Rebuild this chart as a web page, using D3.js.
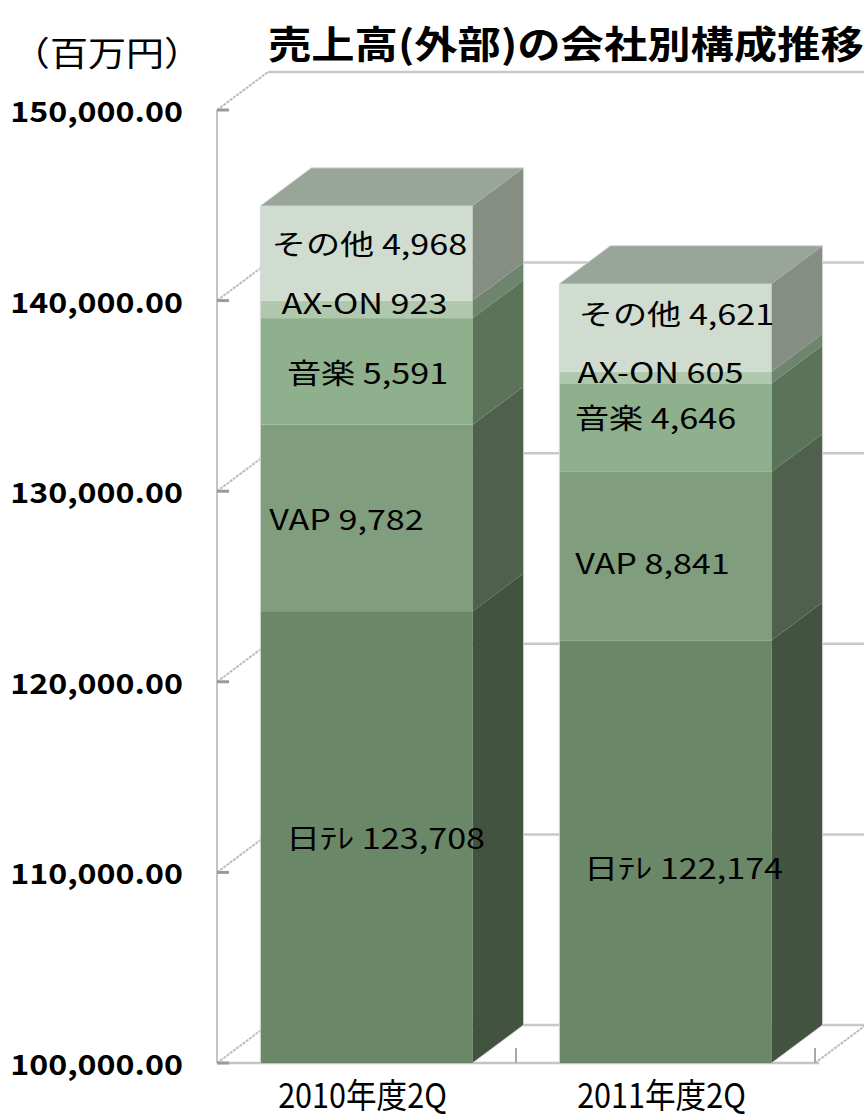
<!DOCTYPE html>
<html>
<head>
<meta charset="utf-8">
<script src="https://cdn.jsdelivr.net/npm/d3@7"></script>
<style>
body { margin: 0; background: #fff; }
svg { display: block; }
text { font-family: "Noto Sans CJK JP", "Noto Sans", sans-serif; }
</style>
</head>
<body>
<svg id="chart"></svg>
<script>
// data (百万円)
const categories = ['2010年度2Q', '2011年度2Q'];
const seriesNames = ['日ﾃﾚ', 'VAP', '音楽', 'AX-ON', 'その他'];
const nitele = [123708, 122174];
const vap = [9782, 8841];
const ongaku = [5591, 4646];
const axon = [923, 605];
const other = [4968, 4621];
const yTicks = [100000, 110000, 120000, 130000, 140000, 150000];

const width = 864, height = 1120;
const svg = d3.select('#chart').attr('width', width).attr('height', height);

const depth = {x: 51, y: -38};//offset of the back wall
const x0 = 217, x1 = 815;

const x = d3.scaleBand().domain(categories).range([x0, x1])
    .paddingInner(0.29).paddingOuter(0.145);
const y = d3.scaleLinear().domain([100000, 150000]).range([1063, 110]).clamp(true);

const rows = categories.map((c, i) => {
    const r = {category: c};
    [nitele, vap, ongaku, axon, other].forEach((s, j) => r[seriesNames[j]] = s[i]);
    return r;
});
const layers = d3.stack().keys(seriesNames)(rows);

const frontColor = ['#6a8768', '#809e7e', '#8fb08c', '#b0c8ad', '#d0dcd0'];
const sideColor = ['#425440', '#4f614d', '#5b7358', '#6f846c', '#868e84'];
const topColor = '#9aa59a';

// small hand moves of the labels, like in the original
const labelNudge = [
    [[19, 0], [18, 15]],
    [[-20, 0], [-13, 6]],
    [[1, 0], [-10, -11]],
    [[-2, -7], [-5, -7]],
    [[3, -10], [11, -15]]
];

const stretched = (sel, sx) => sel.attr('transform', function () {
    const t = d3.select(this);
    return `translate(${t.attr('data-x')},${t.attr('data-y')}) scale(${sx},1)`;
});

// walls and grid
const grid = svg.append('g').attr('fill', 'none');

grid.selectAll('line.back').data(yTicks).join('line')
    .attr('class', 'back')
    .attr('x1', x0 + depth.x).attr('x2', x1 + depth.x + 10)
    .attr('y1', d => y(d) + depth.y).attr('y2', d => y(d) + depth.y)
    .attr('stroke', '#c8c8c8').attr('stroke-width', 2.5);

grid.selectAll('line.side').data(yTicks).join('line')
    .attr('class', 'side')
    .attr('x1', x0).attr('x2', x0 + depth.x)
    .attr('y1', d => y(d)).attr('y2', d => y(d) + depth.y)
    .attr('stroke', '#bdbdbd').attr('stroke-width', 2).attr('stroke-dasharray', '3,1');

grid.append('line')
    .attr('x1', x1).attr('x2', x1 + depth.x)
    .attr('y1', y(100000)).attr('y2', y(100000) + depth.y)
    .attr('stroke', '#bdbdbd').attr('stroke-width', 2).attr('stroke-dasharray', '3,1');

grid.append('line')
    .attr('x1', x0).attr('x2', x0)
    .attr('y1', y(150000)).attr('y2', y(100000))
    .attr('stroke', '#c4c4c4').attr('stroke-width', 2);

grid.append('line')
    .attr('x1', x0).attr('x2', x1 + 4)
    .attr('y1', y(100000)).attr('y2', y(100000))
    .attr('stroke', '#c4c4c4').attr('stroke-width', 2.5);

grid.selectAll('line.tick').data(yTicks).join('line')
    .attr('class', 'tick')
    .attr('x1', x0).attr('x2', x0 + 12)
    .attr('y1', d => y(d)).attr('y2', d => y(d))
    .attr('stroke', '#9a9a9a').attr('stroke-width', 3);

const bounds = categories.map(c => x(c) + x.bandwidth() + (x.step() - x.bandwidth()) / 2);
grid.selectAll('line.cat').data(bounds).join('line')
    .attr('class', 'cat')
    .attr('x1', d => d).attr('x2', d => d)
    .attr('y1', y(100000)).attr('y2', y(100000) - 15)
    .attr('stroke', '#a8a8a8').attr('stroke-width', 2);

// bars
const bars = svg.append('g');
const bw = x.bandwidth();

categories.forEach((c, i) => {
    const bx = x(c);
    layers.forEach((layer, j) => {
        const y0 = y(layer[i][0]), y1 = y(layer[i][1]);
        bars.append('rect')
            .attr('x', bx).attr('y', y1)
            .attr('width', bw).attr('height', y0 - y1)
            .attr('fill', frontColor[j]);
        bars.append('path')
            .attr('d', d3.line()([
                [bx + bw, y1], [bx + bw + depth.x, y1 + depth.y],
                [bx + bw + depth.x, y0 + depth.y], [bx + bw, y0]
            ]) + 'Z')
            .attr('fill', sideColor[j]);
        if (j === layers.length - 1) {
            bars.append('path')
                .attr('d', d3.line()([
                    [bx, y1], [bx + depth.x, y1 + depth.y],
                    [bx + bw + depth.x, y1 + depth.y], [bx + bw, y1]
                ]) + 'Z')
                .attr('fill', topColor);
        }
    });
    // thin light outline of the box
    const yb = y(layers[0][i][0]), yt = y(layers[layers.length - 1][i][1]);
    bars.append('path')
        .attr('d', d3.line()([
            [bx, yb], [bx, yt], [bx + depth.x, yt + depth.y],
            [bx + bw + depth.x, yt + depth.y], [bx + bw + depth.x, yb + depth.y], [bx + bw, yb]
        ]))
        .attr('fill', 'none').attr('stroke', '#d8d8d8').attr('stroke-width', 1);
});

// segment labels
const labels = svg.append('g')
    .attr('font-size', 28).attr('fill', '#000');

layers.forEach((layer, j) => {
    layer.forEach((d, i) => {
        const c = categories[i];
        const cx = x(c) + bw / 2 + labelNudge[j][i][0];
        const cy = (y(d[0]) + y(d[1])) / 2 + labelNudge[j][i][1];
        labels.append('text')
            .attr('data-x', cx).attr('data-y', cy)
            .attr('text-anchor', 'middle')
            .attr('dominant-baseline', 'central')
            .text(`${seriesNames[j]} ${d3.format(',')(d.data[seriesNames[j]])}`)
            .call(stretched, 1.22);
    });
});

// value axis labels
svg.append('g').selectAll('text').data(yTicks).join('text')
    .attr('data-x', 183).attr('data-y', d => y(d))
    .attr('text-anchor', 'end')
    .attr('dominant-baseline', 'central')
    .attr('font-size', 28).attr('font-weight', 600)
    .text(d => d3.format(',.2f')(d))
    .call(stretched, 1.15);

// category labels
svg.append('g').selectAll('text').data(categories).join('text')
    .attr('data-x', d => x(d) + bw / 2 - 4).attr('data-y', 1093)
    .attr('text-anchor', 'middle')
    .attr('dominant-baseline', 'central')
    .attr('font-size', 34)
    .text(d => d)
    .call(stretched, 0.9);

// unit and title
svg.append('text')
    .attr('data-x', 107).attr('data-y', 51)
    .attr('text-anchor', 'middle').attr('dominant-baseline', 'central')
    .attr('font-size', 34)
    .text('（百万円）')
    .call(stretched, 1.12);

svg.append('text')
    .attr('data-x', 268).attr('data-y', 42)
    .attr('dominant-baseline', 'central')
    .attr('font-size', 38).attr('font-weight', 700)
    .text('売上高(外部)の会社別構成推移')
    .call(stretched, 1.14);
</script>
</body>
</html>
